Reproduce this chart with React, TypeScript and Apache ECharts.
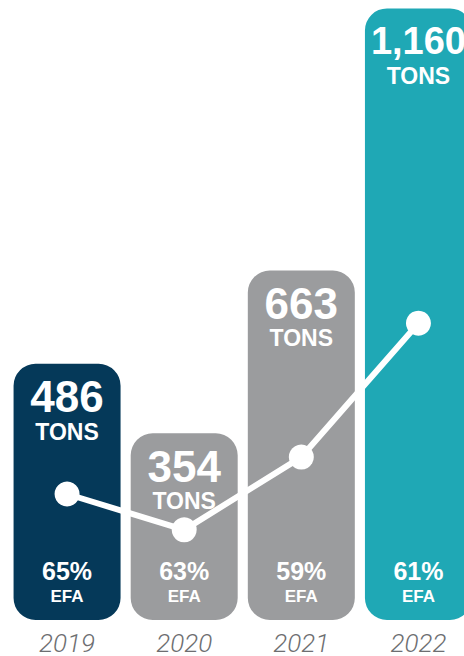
import React, { useEffect, useRef } from "react";
import * as echarts from "echarts";

const years = ["2019", "2020", "2021", "2022"];
const tons = [486, 354, 663, 1160];
const efaPct = [65, 63, 59, 61];
const trendValues = [239, 171, 309, 563];
const barColors = ["#053959", "#9b9c9e", "#9b9c9e", "#1fa8b5"];

export default function App() {
  const ref = useRef<HTMLDivElement>(null);
  useEffect(() => {
    if (!ref.current) return;
    const chart = echarts.init(ref.current, null, { renderer: "svg" });
    const font = "'Liberation Sans', Arial, sans-serif";
    chart.setOption({
      animation: false,
      grid: { left: 8.5, right: 0, top: 0, bottom: 32, containLabel: false },
      xAxis: {
        type: "category",
        data: years,
        axisLine: { show: false },
        axisTick: { show: false },
        axisLabel: {
          margin: 10,
          color: "#6d6e71",
          fontSize: 26,
          fontStyle: "italic",
          fontWeight: 300,
          fontFamily: "Roboto, sans-serif",
        },
      },
      yAxis: {
        type: "value",
        min: 0,
        max: 1176,
        show: false,
        splitLine: { show: false },
      },
      series: [
        {
          type: "bar",
          barWidth: 107,
          data: tons.map((v, i) => ({ value: v, itemStyle: { color: barColors[i] } })),
          itemStyle: { borderRadius: 22 },
          label: {
            show: true,
            position: "insideTop",
            distance: 11,
            formatter: (p: any) => {
              const s = Number(p.value).toLocaleString("en-US");
              return s.length > 4 ? `{vs|${s}}\n{t|TONS}` : `{v|${s}}\n{t|TONS}`;
            },
            rich: {
              v: { fontSize: 44, lineHeight: 44, fontWeight: "bold", color: "#fff", fontFamily: font },
              vs: { fontSize: 38, lineHeight: 44, fontWeight: "bold", color: "#fff", fontFamily: font },
              t: { fontSize: 23, lineHeight: 26, fontWeight: "bold", color: "#fff", fontFamily: font },
            },
          },
          emphasis: { disabled: true },
          z: 1,
        },
        {
          type: "bar",
          barWidth: 107,
          barGap: "-100%",
          data: tons,
          itemStyle: { color: "rgba(0,0,0,0)" },
          label: {
            show: true,
            position: "insideBottom",
            distance: 13,
            formatter: (p: any) => `{p|${efaPct[p.dataIndex]}%}\n{e|EFA}`,
            rich: {
              p: { fontSize: 25, lineHeight: 28, fontWeight: "bold", color: "#fff", fontFamily: font },
              e: { fontSize: 17, lineHeight: 22, fontWeight: "bold", color: "#fff", fontFamily: font },
            },
          },
          emphasis: { disabled: true },
          z: 2,
        },
        {
          type: "line",
          data: trendValues,
          symbol: "circle",
          symbolSize: 25,
          lineStyle: { color: "#ffffff", width: 6 },
          itemStyle: { color: "#ffffff" },
          emphasis: { disabled: true },
          z: 3,
        },
      ],
    });
    return () => chart.dispose();
  }, []);
  return (
    <div
      ref={ref}
      style={{ position: "fixed", left: 0, top: 0, width: 477, height: 656, background: "#fff" }}
    />
  );
}
